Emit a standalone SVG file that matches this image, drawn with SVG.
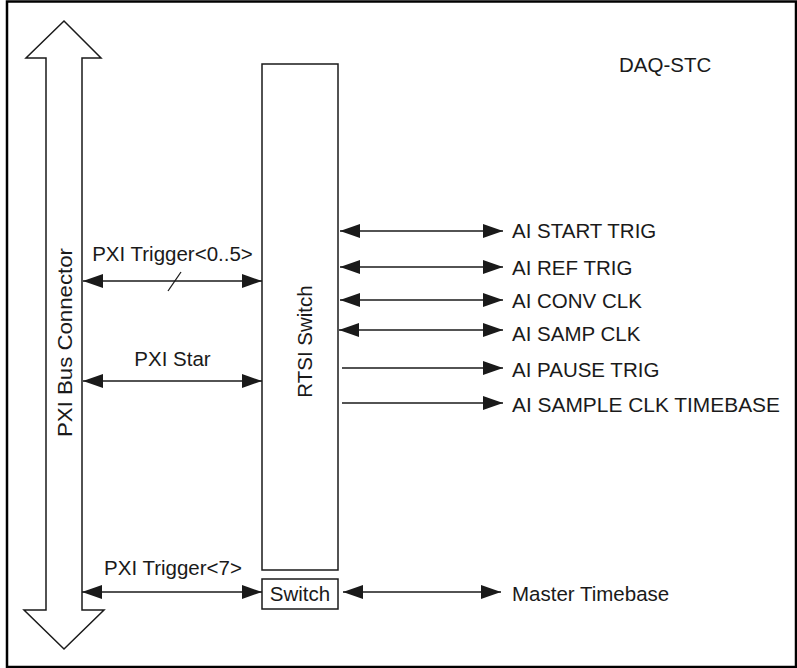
<svg xmlns="http://www.w3.org/2000/svg" width="797" height="668" viewBox="0 0 797 668">
<defs>
<marker id="ah" viewBox="0 0 20 14" refX="20" refY="7" markerWidth="20" markerHeight="14" markerUnits="userSpaceOnUse" orient="auto-start-reverse">
<path d="M0,0 L20,7 L0,14 Z" fill="#1a1a1a"/>
</marker>
</defs>
<style>
text{font-family:"Liberation Sans",Arial,Helvetica,sans-serif;font-size:20.5px;fill:#1a1a1a}
.box{fill:#fff;stroke:#1a1a1a;stroke-width:1.5}
.ln{stroke:#1a1a1a;stroke-width:1.3;fill:none}
.bi{marker-start:url(#ah);marker-end:url(#ah)}
.uni{marker-end:url(#ah)}
</style>
<rect x="0" y="0" width="797" height="668" fill="#fff"/>
<rect x="7" y="1.5" width="789" height="665.5" fill="none" stroke="#000" stroke-width="2.5"/>

<g id="pxi-bus-connector">
<polygon class="box" points="64,21 101,58 82,58 82,610 104,610 64,649 24,610 46,610 46,58 26,58"/>
<text x="72" y="342.5" text-anchor="middle" transform="rotate(-90 72 342.5)" textLength="189" lengthAdjust="spacingAndGlyphs">PXI Bus Connector</text>
</g>

<g id="rtsi-switch">
<rect class="box" x="262" y="64" width="76" height="506"/>
<text x="312" y="341.5" text-anchor="middle" transform="rotate(-90 312 341.5)">RTSI Switch</text>
</g>

<g id="switch">
<rect class="box" x="262" y="579" width="76" height="30"/>
<text x="300" y="601" text-anchor="middle">Switch</text>
</g>

<g id="daq-stc">
<text x="619" y="72">DAQ-STC</text>
</g>

<g id="signals">
<text x="512" y="237.5">AI START TRIG</text>
<text x="512" y="275">AI REF TRIG</text>
<text x="512" y="308">AI CONV CLK</text>
<text x="512" y="341">AI SAMP CLK</text>
<text x="512" y="377">AI PAUSE TRIG</text>
<text x="512" y="411.5" textLength="268" lengthAdjust="spacingAndGlyphs">AI SAMPLE CLK TIMEBASE</text>
<text x="512" y="601">Master Timebase</text>
</g>

<g id="connectors">
<line class="ln bi" x1="83" y1="281" x2="262" y2="281"/>
<line class="ln" x1="168" y1="291" x2="181" y2="272"/>
<text x="172.5" y="261" text-anchor="middle">PXI Trigger&lt;0..5&gt;</text>
<line class="ln bi" x1="83" y1="381" x2="262" y2="381"/>
<text x="172.5" y="366" text-anchor="middle">PXI Star</text>
<line class="ln bi" x1="82" y1="592" x2="262" y2="592"/>
<text x="173" y="575" text-anchor="middle">PXI Trigger&lt;7&gt;</text>

<line class="ln bi" x1="340" y1="231" x2="503" y2="231"/>
<line class="ln bi" x1="340" y1="267" x2="503" y2="267"/>
<line class="ln bi" x1="340" y1="300" x2="503" y2="300"/>
<line class="ln bi" x1="339" y1="330" x2="503" y2="330"/>
<line class="ln uni" x1="342" y1="368" x2="503" y2="368"/>
<line class="ln uni" x1="342" y1="403" x2="503" y2="403"/>
<line class="ln bi" x1="343" y1="592" x2="501" y2="592"/>
</g>
</svg>
